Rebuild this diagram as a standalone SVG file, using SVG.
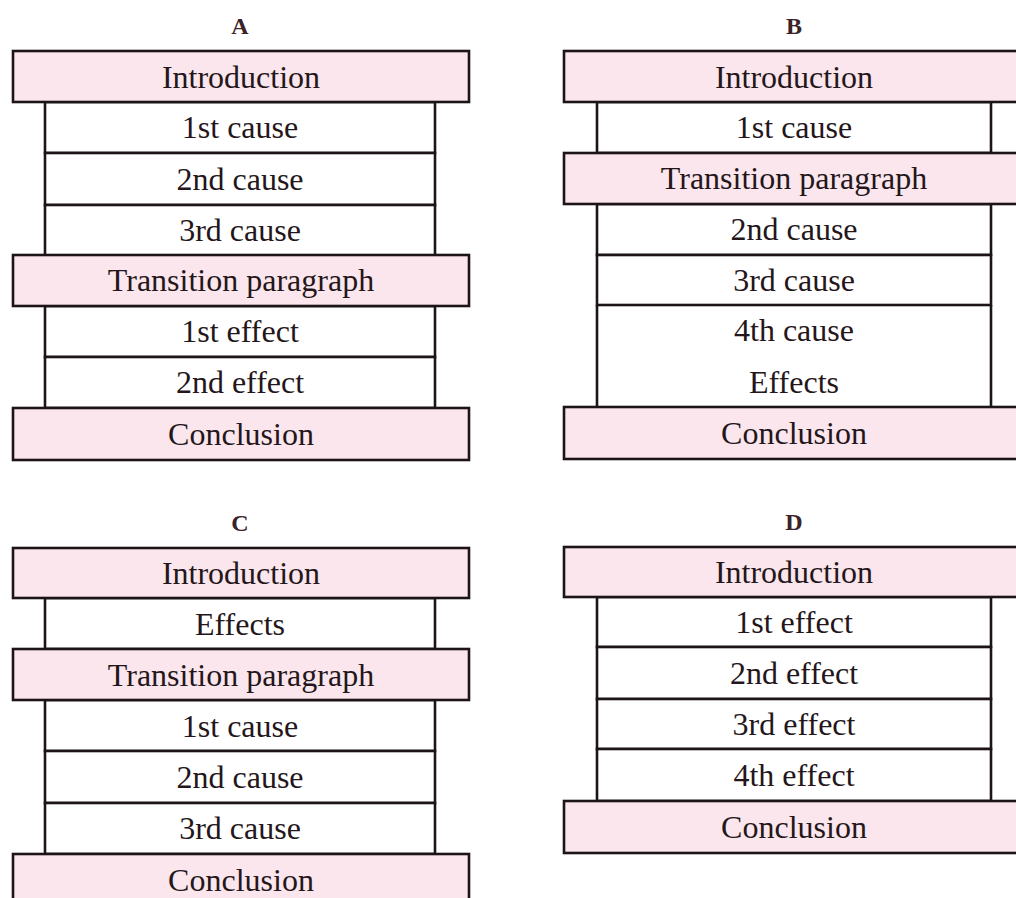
<svg xmlns="http://www.w3.org/2000/svg" width="1016" height="898" viewBox="0 0 1016 898">
<style>
.bg{fill:#ffffff}
.pink{fill:#fae6ec;stroke:#1c1416;stroke-width:2.6}
.white{fill:#ffffff;stroke:#1c1416;stroke-width:2.6}
.open{fill:#ffffff;stroke:none}
.side{fill:none;stroke:#1c1416;stroke-width:2.6}
.t{font-family:"Liberation Serif","Times New Roman",serif;font-size:32px;fill:#24161a;text-anchor:middle}
.lbl{font-family:"Liberation Serif","Times New Roman",serif;font-size:24px;font-weight:bold;fill:#3a2228;text-anchor:middle}
</style>
<rect class="bg" x="0" y="0" width="1016" height="898"/>
<g id="labels">
<text class="lbl" x="240" y="34">A</text>
<text class="lbl" x="794" y="34">B</text>
<text class="lbl" x="240" y="531">C</text>
<text class="lbl" x="794" y="530">D</text>
</g>
<g id="connectors"></g>
<!-- Panel A -->
<g id="panel-a">
<g id="a-1st-cause"><rect class="white" x="45" y="102" width="390" height="51"/><text class="t" x="240" y="138">1st cause</text></g>
<g id="a-2nd-cause"><rect class="white" x="45" y="153" width="390" height="52"/><text class="t" x="240" y="190">2nd cause</text></g>
<g id="a-3rd-cause"><rect class="white" x="45" y="205" width="390" height="51"/><text class="t" x="240" y="241">3rd cause</text></g>
<g id="a-1st-effect"><rect class="white" x="45" y="306" width="390" height="51"/><text class="t" x="240" y="342">1st effect</text></g>
<g id="a-2nd-effect"><rect class="white" x="45" y="357" width="390" height="51"/><text class="t" x="240" y="393">2nd effect</text></g>
<g id="a-introduction"><rect class="pink" x="13" y="51" width="456" height="51"/><text class="t" x="241" y="88">Introduction</text></g>
<g id="a-transition"><rect class="pink" x="13" y="255" width="456" height="51"/><text class="t" x="241" y="291">Transition paragraph</text></g>
<g id="a-conclusion"><rect class="pink" x="13" y="408" width="456" height="52"/><text class="t" x="241" y="445">Conclusion</text></g>
</g>
<!-- Panel B -->
<g id="panel-b">
<g id="b-4th-cause"><rect class="open" x="597" y="305" width="394" height="51"/><path class="side" d="M597 305V356M991 305V356"/><text class="t" x="794" y="341">4th cause</text></g>
<g id="b-effects"><rect class="open" x="597" y="356" width="394" height="51"/><path class="side" d="M597 356V407M991 356V407"/><text class="t" x="794" y="393">Effects</text></g>
<g id="b-1st-cause"><rect class="white" x="597" y="102" width="394" height="51"/><text class="t" x="794" y="138">1st cause</text></g>
<g id="b-2nd-cause"><rect class="white" x="597" y="204" width="394" height="51"/><text class="t" x="794" y="240">2nd cause</text></g>
<g id="b-3rd-cause"><rect class="white" x="597" y="255" width="394" height="50"/><text class="t" x="794" y="291">3rd cause</text></g>
<g id="b-introduction"><rect class="pink" x="564" y="51" width="470" height="51"/><text class="t" x="794" y="88">Introduction</text></g>
<g id="b-transition"><rect class="pink" x="564" y="153" width="470" height="51"/><text class="t" x="794" y="189">Transition paragraph</text></g>
<g id="b-conclusion"><rect class="pink" x="564" y="407" width="470" height="52"/><text class="t" x="794" y="444">Conclusion</text></g>
</g>
<!-- Panel C -->
<g id="panel-c">
<g id="c-effects"><rect class="white" x="45" y="598" width="390" height="51"/><text class="t" x="240" y="635">Effects</text></g>
<g id="c-1st-cause"><rect class="white" x="45" y="700" width="390" height="51"/><text class="t" x="240" y="737">1st cause</text></g>
<g id="c-2nd-cause"><rect class="white" x="45" y="751" width="390" height="52"/><text class="t" x="240" y="788">2nd cause</text></g>
<g id="c-3rd-cause"><rect class="white" x="45" y="803" width="390" height="51"/><text class="t" x="240" y="839">3rd cause</text></g>
<g id="c-introduction"><rect class="pink" x="13" y="548" width="456" height="50"/><text class="t" x="241" y="584">Introduction</text></g>
<g id="c-transition"><rect class="pink" x="13" y="649" width="456" height="51"/><text class="t" x="241" y="686">Transition paragraph</text></g>
<g id="c-conclusion"><rect class="pink" x="13" y="854" width="456" height="60"/><text class="t" x="241" y="891">Conclusion</text></g>
</g>
<!-- Panel D -->
<g id="panel-d">
<g id="d-1st-effect"><rect class="white" x="597" y="597" width="394" height="50"/><text class="t" x="794" y="633">1st effect</text></g>
<g id="d-2nd-effect"><rect class="white" x="597" y="647" width="394" height="52"/><text class="t" x="794" y="684">2nd effect</text></g>
<g id="d-3rd-effect"><rect class="white" x="597" y="699" width="394" height="50"/><text class="t" x="794" y="735">3rd effect</text></g>
<g id="d-4th-effect"><rect class="white" x="597" y="749" width="394" height="52"/><text class="t" x="794" y="786">4th effect</text></g>
<g id="d-introduction"><rect class="pink" x="564" y="547" width="470" height="50"/><text class="t" x="794" y="583">Introduction</text></g>
<g id="d-conclusion"><rect class="pink" x="564" y="801" width="470" height="52"/><text class="t" x="794" y="838">Conclusion</text></g>
</g>
</svg>
